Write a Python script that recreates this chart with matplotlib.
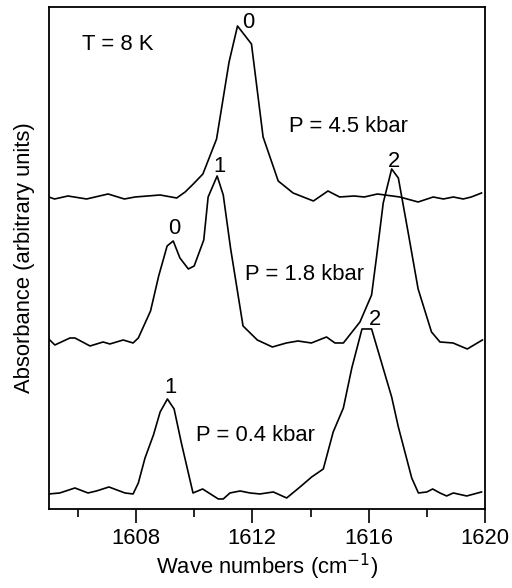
import matplotlib
matplotlib.use("Agg")
import matplotlib.pyplot as plt
from matplotlib.ticker import MultipleLocator

plt.rcParams['font.family'] = ['Liberation Sans', 'DejaVu Sans']
FS = 15.8

# Spectrum at P = 4.5 kbar (absorbance above its own baseline)
wn_45 = [1605.0, 1605.2, 1605.66, 1606.3, 1607.04, 1607.6, 1607.97, 1608.83, 1609.4,
         1609.69, 1609.97, 1610.3, 1610.77, 1611.2, 1611.49, 1611.97, 1612.37, 1612.89,
         1613.4, 1614.1, 1614.6, 1615.0, 1615.5, 1615.85, 1616.3, 1617.07, 1617.7,
         1618.22, 1618.57, 1618.91, 1619.25, 1619.53, 1619.88]
ab_45 = [0.00, -0.02, 0.01, -0.02, 0.03, -0.02, 0.00, 0.02, -0.01,
         0.05, 0.13, 0.23, 0.58, 1.35, 1.71, 1.53, 0.60, 0.16,
         0.04, -0.04, 0.06, 0.00, 0.01, 0.00, 0.03, 0.00, -0.05,
         0.00, -0.02, 0.00, -0.02, 0.00, 0.04]

# Spectrum at P = 1.8 kbar
wn_18 = [1605.0, 1605.21, 1605.73, 1605.9, 1606.42, 1606.87, 1607.1, 1607.56, 1607.9,
         1608.08, 1608.5, 1608.78, 1609.07, 1609.28, 1609.51, 1609.8, 1610.0, 1610.33,
         1610.48, 1610.79, 1611.0, 1611.25, 1611.68, 1612.17, 1612.69, 1613.17, 1613.57,
         1614.03, 1614.55, 1614.84, 1615.13, 1615.7, 1616.1, 1616.27, 1616.5, 1616.79,
         1617.02, 1617.36, 1617.7, 1618.16, 1618.45, 1618.9, 1619.39, 1619.91]
ab_18 = [0.04, -0.02, 0.05, 0.05, -0.03, 0.01, -0.01, 0.03, 0.00,
         0.05, 0.32, 0.67, 0.97, 1.02, 0.85, 0.74, 0.77, 1.03,
         1.46, 1.67, 1.48, 0.95, 0.17, 0.03, -0.04, 0.00, 0.02,
         0.00, 0.06, 0.00, 0.00, 0.21, 0.48, 0.86, 1.40, 1.74,
         1.65, 1.10, 0.54, 0.11, 0.01, 0.00, -0.06, 0.03]

# Spectrum at P = 0.4 kbar
wn_04 = [1605.0, 1605.38, 1605.9, 1606.35, 1606.64, 1607.07, 1607.62, 1607.9, 1608.08,
         1608.31, 1608.6, 1608.83, 1609.08, 1609.31, 1609.56, 1609.96, 1610.29, 1610.83,
         1611.0, 1611.23, 1611.58, 1611.92, 1612.26, 1612.72, 1613.18, 1613.64, 1614.04,
         1614.44, 1614.78, 1615.13, 1615.42, 1615.77, 1616.1, 1616.79, 1617.02, 1617.48,
         1617.71, 1618.0, 1618.2, 1618.45, 1618.68, 1618.91, 1619.37, 1619.88]
ab_04 = [-0.01, 0.00, 0.05, 0.00, 0.02, 0.06, 0.00, -0.01, 0.10,
         0.35, 0.58, 0.81, 0.94, 0.84, 0.50, 0.00, 0.04, -0.06,
         -0.06, 0.00, 0.02, 0.00, -0.01, 0.01, -0.05, 0.06, 0.16,
         0.24, 0.61, 0.85, 1.25, 1.64, 1.64, 0.96, 0.66, 0.15,
         0.00, 0.01, 0.04, 0.00, -0.03, 0.00, -0.03, 0.01]

offsets = [3.12, 1.66, 0.16]
series = [(wn_45, ab_45), (wn_18, ab_18), (wn_04, ab_04)]

fig = plt.figure(figsize=(5.12, 5.88), dpi=100)
ax = fig.add_axes([0.0952, 0.1344, 0.8521, 0.8537])

for (wn, ab), off in zip(series, offsets):
    ax.plot(wn, [a + off for a in ab], color='black', lw=1.2)

ax.set_xlim(1605, 1620)
ax.set_ylim(0, 5.02)
ax.xaxis.set_major_locator(MultipleLocator(4))
ax.xaxis.set_minor_locator(MultipleLocator(2))
ax.tick_params(axis='x', which='major', direction='out', length=10, width=1.2,
               labelsize=FS, pad=4)
ax.tick_params(axis='x', which='minor', direction='out', length=5.5, width=1.2)
ax.set_yticks([])
for s in ax.spines.values():
    s.set_linewidth(1.3)

ax.set_xlabel('Wave numbers (cm$^{-1}$)', fontsize=FS, labelpad=2)
ax.set_ylabel('Absorbance (arbitrary units)', fontsize=FS, labelpad=10)

labels = [
    ('T = 8 K', 1607.38, 4.59),
    ('0', 1611.86, 4.807),
    ('P = 4.5 kbar', 1615.30, 3.773),
    ('1', 1610.86, 3.373),
    ('2', 1616.88, 3.423),
    ('0', 1609.30, 2.75),
    ('P = 1.8 kbar', 1613.79, 2.29),
    ('2', 1616.22, 1.84),
    ('1', 1609.20, 1.163),
    ('P = 0.4 kbar', 1612.12, 0.68),
]
for txt, x, y in labels:
    ax.text(x, y, txt, fontsize=FS, ha='center', va='baseline')

fig.savefig('out.png', dpi=100)
